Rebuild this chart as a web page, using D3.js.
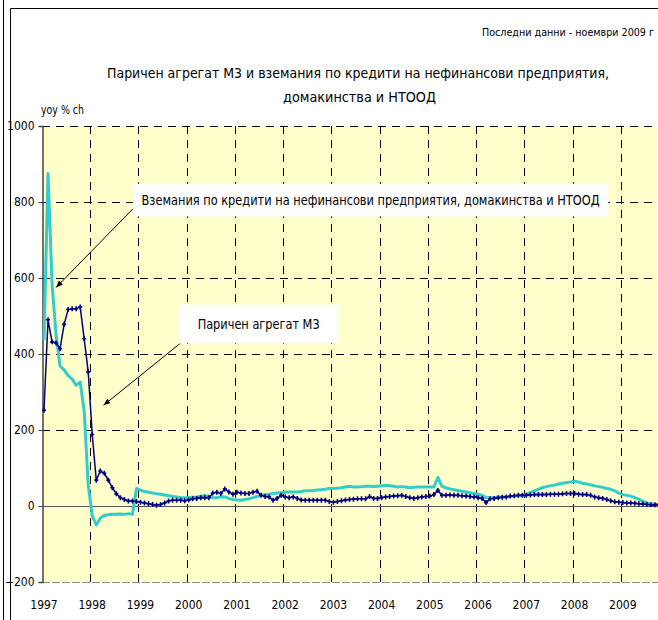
<!DOCTYPE html>
<html>
<head>
<meta charset="utf-8">
<script src="https://cdn.jsdelivr.net/npm/d3@7"></script>
<style>
  body { margin: 0; background: #fff; }
  svg text { font-family: "DejaVu Sans Condensed", "DejaVu Sans", sans-serif; font-stretch: condensed; fill: #000; }
</style>
</head>
<body>
<svg id="chart" width="658" height="620"></svg>
<script>
// year labels on the category axis
const years = ["1997","1998","1999","2000","2001","2002","2003","2004","2005","2006","2007","2008","2009"];
const yTicks = [-200, 0, 200, 400, 600, 800, 1000];

// monthly yoy % change, Jan 1997 .. Nov 2009
const m3 = [
  252, 490, 432, 429, 414, 478, 517, 519, 519, 524, 440, 353,
  188, 68, 92, 86, 68, 48, 32, 22, 17, 13, 13, 12,
  10, 8, 6, 4, 2, 4, 8, 13, 15, 15, 15, 14,
  16, 19, 20, 22, 22, 22, 34, 36, 33, 45, 37, 31,
  36, 34, 33, 33, 36, 39, 28, 25, 24, 15, 20, 28,
  24, 22, 24, 20, 16, 15, 15, 15, 15, 15, 15, 12,
  10, 12, 14, 16, 17, 18, 19, 19, 19, 25, 20, 20,
  22, 24, 25, 26, 27, 28, 25, 22, 20, 22, 24, 25,
  26, 30, 41, 28, 28, 29, 28, 28, 27, 26, 25, 24,
  22, 20, 9, 19, 20, 22, 23, 24, 26, 27, 28, 28,
  28, 29, 30, 30, 30, 30, 31, 31, 31, 32, 33, 33,
  33, 31, 30, 30, 28, 24, 22, 20, 17, 14, 11, 10,
  9, 8, 8, 7, 6, 5, 4, 3, 3, 4, 5
];
const credit = [
  436, 875, 585, 450, 368, 358, 343, 334, 318, 326, 250, 55,
  -25, -50, -32, -25, -23, -22, -22, -21, -22, -20, -22, 46,
  42, 38, 36, 34, 32, 31, 29, 27, 25, 24, 22, 22,
  22, 23, 24, 26, 28, 25, 22, 22, 24, 24, 20, 17,
  16, 15, 17, 19, 22, 25, 28, 30, 31, 33, 34, 35,
  36, 37, 37, 37, 38, 40, 40, 41, 42, 43, 44, 46,
  46, 47, 48, 50, 52, 50, 50, 51, 52, 52, 51, 52,
  53, 54, 53, 52, 50, 51, 50, 48, 49, 50, 50, 50,
  50, 50, 75, 52, 48, 45, 43, 41, 39, 37, 35, 33,
  31, 28, 22, 22, 22, 23, 24, 24, 25, 26, 27, 28,
  30, 36, 40, 44, 48, 51, 53, 55, 58, 60, 62, 63,
  65, 63, 60, 58, 56, 53, 51, 49, 46, 44, 40, 34,
  30, 28, 26, 22, 18, 12, 8, 5, 4, 4, 5
];

const svg = d3.select("#chart");
const plot = { left: 42, top: 126, right: 669, bottom: 582 };

const x = d3.scaleLinear().domain([0, 156]).range([plot.left, plot.right]);
const y = d3.scaleLinear().domain([-200, 1000]).range([plot.bottom, plot.top]);

// fit a text to a given width, the reference font is a narrow one
function fitted(sel, w) {
  return sel.attr("textLength", w).attr("lengthAdjust", "spacingAndGlyphs");
}

// outer frames
svg.append("line").attr("x1", 3.5).attr("x2", 3.5).attr("y1", 0).attr("y2", 620)
  .attr("stroke", "#000").attr("stroke-width", 1);
svg.append("path").attr("d", "M10.5,620V8.5H658")
  .attr("fill", "none").attr("stroke", "#000").attr("stroke-width", 1);

fitted(svg.append("text").attr("x", 482).attr("y", 36).attr("font-size", 10.5)
  .text("Последни данни - ноември 2009 г"), 172);

fitted(svg.append("text").attr("x", 107).attr("y", 78).attr("font-size", 14.5)
  .text("Паричен агрегат М3 и вземания по кредити на нефинансови предприятия,"), 502);
fitted(svg.append("text").attr("x", 283).attr("y", 102).attr("font-size", 14.5)
  .text("домакинства и НТООД"), 153);

fitted(svg.append("text").attr("x", 41).attr("y", 114).attr("font-size", 12).text("yoy % ch"), 43);

// plot area
svg.append("clipPath").attr("id", "clip").append("rect")
  .attr("x", plot.left).attr("y", plot.top - 2).attr("width", plot.right - plot.left).attr("height", plot.bottom - plot.top + 4);

svg.append("rect").attr("x", plot.left).attr("y", plot.top)
  .attr("width", plot.right - plot.left).attr("height", plot.bottom - plot.top)
  .attr("fill", "#FFFFCC");

const grid = svg.append("g").attr("clip-path", "url(#clip)");

grid.selectAll(".hg").data(yTicks.filter(d => d !== 0 && d !== -200))
  .enter().append("line")
  .attr("x1", plot.left).attr("x2", plot.right)
  .attr("y1", d => Math.round(y(d)) + 0.5).attr("y2", d => Math.round(y(d)) + 0.5)
  .attr("stroke", "#000").attr("stroke-dasharray", "8,6");

grid.selectAll(".vg").data(d3.range(1, years.length + 1))
  .enter().append("line")
  .attr("x1", d => Math.round(x(d * 12)) + 0.5).attr("x2", d => Math.round(x(d * 12)) + 0.5)
  .attr("y1", plot.top).attr("y2", plot.bottom)
  .attr("stroke", "#000").attr("stroke-dasharray", "8,6");

// bottom edge
grid.append("line").attr("x1", plot.left).attr("x2", plot.right)
  .attr("y1", plot.bottom + 0.5).attr("y2", plot.bottom + 0.5)
  .attr("stroke", "#888").attr("stroke-dasharray", "8,2");

// zero line
grid.append("line").attr("x1", plot.left).attr("x2", plot.right)
  .attr("y1", Math.round(y(0)) + 0.5).attr("y2", Math.round(y(0)) + 0.5)
  .attr("stroke", "#555").attr("stroke-width", 1.2);

// y axis
const yAxis = d3.axisLeft(y).tickValues(yTicks).tickSize(4).tickFormat(d3.format("d"));
const ya = svg.append("g").attr("transform", `translate(${plot.left + 0.5},0)`).call(yAxis);
ya.attr("font-family", null);
ya.select(".domain").attr("stroke", "#444").attr("stroke-width", 1.5);
ya.selectAll(".tick line").attr("stroke", "#444");
ya.selectAll(".tick text").attr("font-size", 12).attr("x", -8);

// x labels
svg.selectAll(".xl").data(years).enter().append("text")
  .attr("x", (d, i) => x(i * 12) + 2).attr("y", 609)
  .attr("text-anchor", "middle").attr("font-size", 12)
  .text(d => d);

// series
const lines = svg.append("g").attr("clip-path", "url(#clip)");
const line = d3.line().x((d, i) => x(i + 0.5)).y(d => y(d));

lines.append("path").datum(credit).attr("d", line)
  .attr("fill", "none").attr("stroke", "#33CCCC").attr("stroke-width", 3).attr("stroke-linejoin", "round");

lines.append("path").datum(m3).attr("d", line)
  .attr("fill", "none").attr("stroke", "#000080").attr("stroke-width", 1.5);

lines.selectAll(".mk").data(m3).enter().append("path")
  .attr("transform", (d, i) => `translate(${x(i + 0.5)},${y(d)})`)
  .attr("d", "M-2,0H2M0,-2.5V2.5")
  .attr("stroke", "#000080").attr("stroke-width", 1.6);

// annotations
const defs = svg.append("defs");
defs.append("marker").attr("id", "arr").attr("viewBox", "0 0 10 10")
  .attr("refX", 10).attr("refY", 5).attr("markerWidth", 7).attr("markerHeight", 7)
  .attr("orient", "auto-start-reverse")
  .append("path").attr("d", "M0,1L10,5L0,9z").attr("fill", "#000");

const notes = [
  { text: "Вземания по кредити на нефинансови предприятия, домакинства и НТООД",
    m0: 22.6, m1: 140.9, v0: 848, v1: 762, size: 13.5, width: 458, tail: [22.7, 783], head: [3.5, 575] },
  { text: "Паричен агрегат М3",
    m0: 34.1, m1: 73.7, v0: 530, v1: 428, size: 14.5, width: 122, tail: [34.4, 428], head: [15.3, 265] }
];

notes.forEach(n => {
  svg.append("line")
    .attr("x1", x(n.tail[0])).attr("y1", y(n.tail[1]))
    .attr("x2", x(n.head[0])).attr("y2", y(n.head[1]))
    .attr("stroke", "#000").attr("stroke-width", 1).attr("marker-end", "url(#arr)");
  svg.append("rect").attr("x", x(n.m0)).attr("y", y(n.v0))
    .attr("width", x(n.m1) - x(n.m0)).attr("height", y(n.v1) - y(n.v0))
    .attr("fill", "#fff");
  fitted(svg.append("text").attr("x", (x(n.m0) + x(n.m1)) / 2 - n.width / 2)
    .attr("y", (y(n.v0) + y(n.v1)) / 2 + 5)
    .attr("font-size", n.size).text(n.text), n.width);
});
</script>
</body>
</html>
